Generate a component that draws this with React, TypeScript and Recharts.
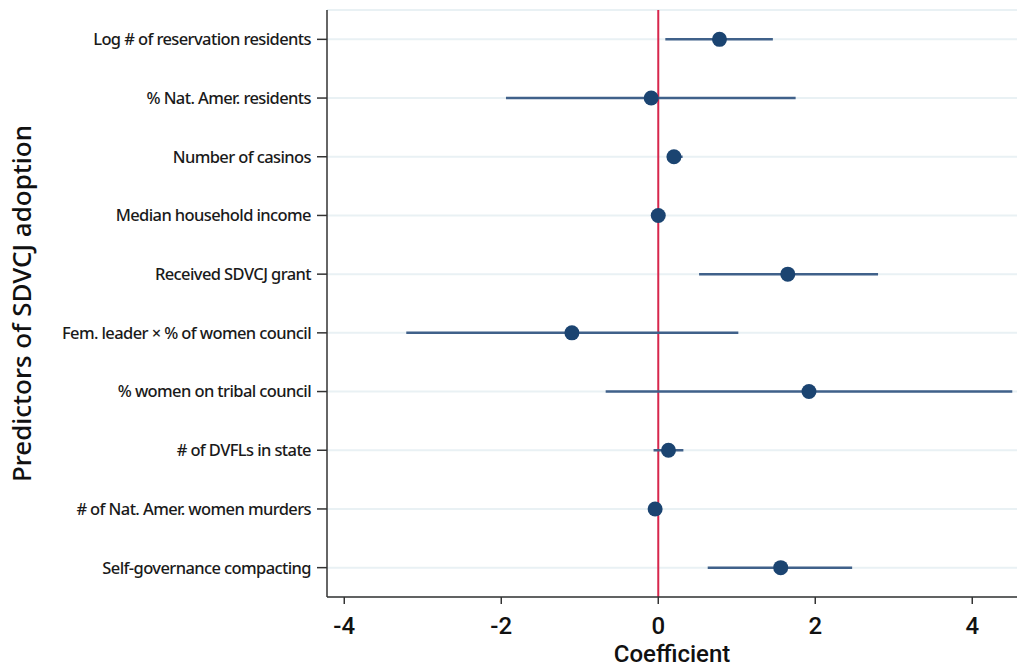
import React from 'react';
import { ScatterChart, Scatter, XAxis, YAxis, CartesianGrid, ErrorBar, ReferenceLine } from 'recharts';

const predictors = [
  'Log # of reservation residents',
  '% Nat. Amer. residents',
  'Number of casinos',
  'Median household income',
  'Received SDVCJ grant',
  'Fem. leader × % of women council',
  '% women on tribal council',
  '# of DVFLs in state',
  '# of Nat. Amer. women murders',
  'Self-governance compacting',
];
const coef = [0.78, -0.09, 0.2, 0.0, 1.65, -1.1, 1.92, 0.13, -0.04, 1.56];
const ciLow = [0.09, -1.94, 0.11, -0.03, 0.52, -3.21, -0.67, -0.06, -0.07, 0.63];
const ciHigh = [1.46, 1.75, 0.31, 0.03, 2.8, 1.02, 4.51, 0.32, -0.01, 2.47];
const xTicks = [-4, -2, 0, 2, 4];

const rows = predictors.map((name, i) => ({
  row: i + 1,
  name,
  coef: coef[i],
  err: [coef[i] - ciLow[i], ciHigh[i] - coef[i]],
}));

const Dot = (p: any) => <circle cx={p.cx} cy={p.cy} r={7.5} fill="#1b4471" />;

export default function App() {
  return (
    <div style={{ position: 'absolute', left: 0, top: 0, width: 1019, height: 667, background: '#fff' }}>
      <ScatterChart width={1019} height={667} margin={{ top: 10, right: 2, bottom: 0, left: 0 }}>
        <CartesianGrid vertical={false} stroke="#e9f1f4" strokeWidth={2} />
        <XAxis
          type="number"
          dataKey="coef"
          domain={[-4.22, 4.57]}
          allowDataOverflow
          ticks={xTicks}
          height={70}
          tickSize={7}
          tickMargin={13}
          stroke="#333"
          strokeWidth={1.5}
          tick={{ fontSize: 24, fill: '#111', fontWeight: 500, fontFamily: 'Roboto, sans-serif' }}
          label={{
            value: 'Coefficient',
            position: 'insideBottom',
            offset: 5,
            style: { fontSize: 24, fill: '#111', fontWeight: 500, fontFamily: 'Roboto, sans-serif' },
          }}
        />
        <YAxis
          type="number"
          dataKey="row"
          domain={[0.5, 10.5]}
          reversed
          ticks={rows.map((r) => r.row)}
          tickFormatter={(v: number) => predictors[v - 1]}
          interval={0}
          width={327}
          tickSize={10}
          tickMargin={6}
          stroke="#333"
          strokeWidth={1.5}
          tick={{ fontSize: 16.5, fill: '#1a1a1a', fontWeight: 500, fontFamily: '"Noto Sans", sans-serif', letterSpacing: -0.6 }}
          label={{
            value: 'Predictors of SDVCJ adoption',
            angle: -90,
            position: 'insideLeft',
            offset: 22,
            style: { textAnchor: 'middle', fontSize: 26, fill: '#111', fontWeight: 500, fontFamily: '"Noto Sans", sans-serif' },
          }}
        />
        <ReferenceLine x={0} stroke="#d7264c" strokeWidth={2} />
        <Scatter data={rows} shape={Dot} isAnimationActive={false}>
          <ErrorBar dataKey="err" direction="x" width={0} stroke="#40618a" strokeWidth={2.5} />
        </Scatter>
      </ScatterChart>
    </div>
  );
}
